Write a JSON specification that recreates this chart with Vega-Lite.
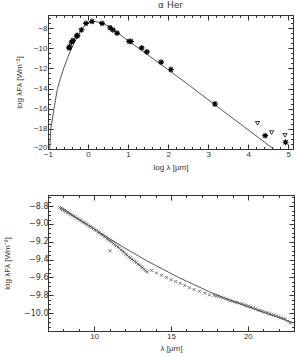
{
  "$schema": "https://vega.github.io/schema/vega-lite/v6.json",
  "background": "white",
  "padding": {"left": 2, "top": 0, "right": 4, "bottom": 0},
  "spacing": 20,
  "config": {
    "view": {"stroke": "#333", "strokeWidth": 1},
    "axis": {
      "grid": false,
      "domainColor": "#333",
      "tickColor": "#333",
      "tickWidth": 1,
      "labelColor": "#333",
      "titleColor": "#333",
      "labelFont": "Liberation Sans",
      "titleFont": "Liberation Sans",
      "labelFontSize": 8,
      "titleFontSize": 8,
      "titleFontWeight": "normal",
      "labelFlush": false,
      "labelOverlap": false
    },
    "title": {"font": "DejaVu Sans", "fontSize": 9, "fontWeight": "normal", "color": "#333"}
  },
  "vconcat": [
    {
      "title": {"text": "α Her", "offset": 4, "frame": "group"},
      "width": 245,
      "height": 134,
      "resolve": {"axis": {"x": "independent", "y": "independent"}},
      "layer": [
        {
          "data": {"values": [
            {"x": -0.955, "y": -20}, {"x": -0.93, "y": -18}, {"x": -0.85, "y": -16}, {"x": -0.765, "y": -14},
            {"x": -0.69, "y": -13}, {"x": -0.6, "y": -11.9}, {"x": -0.5, "y": -10.85}, {"x": -0.41, "y": -10.0},
            {"x": -0.3, "y": -9.1}, {"x": -0.2, "y": -8.4}, {"x": -0.1, "y": -7.8}, {"x": 0, "y": -7.5},
            {"x": 0.1, "y": -7.34}, {"x": 0.2, "y": -7.36}, {"x": 0.3, "y": -7.46}, {"x": 0.4, "y": -7.6},
            {"x": 0.5, "y": -7.8}, {"x": 0.6, "y": -8.05}, {"x": 0.75, "y": -8.5}, {"x": 1.0, "y": -9.25},
            {"x": 1.25, "y": -9.95}, {"x": 1.5, "y": -10.68}, {"x": 1.75, "y": -11.4}, {"x": 2.0, "y": -12.12},
            {"x": 2.5, "y": -13.6}, {"x": 3.0, "y": -15.1}, {"x": 3.5, "y": -16.6}, {"x": 4.0, "y": -18.1},
            {"x": 4.5, "y": -19.6}, {"x": 4.64, "y": -20}
          ]},
          "mark": {"type": "line", "color": "#555", "strokeWidth": 1},
          "encoding": {
            "x": {"field": "x", "type": "quantitative",
              "scale": {"domain": [-1, 5.12], "nice": false, "zero": false},
              "axis": {"orient": "bottom", "title": "log λ [μm]", "titleY": 18, "titleBaseline": "middle",
                "values": [-1,-0.8,-0.6,-0.4,-0.2,0,0.2,0.4,0.6,0.8,1,1.2,1.4,1.6,1.8,2,2.2,2.4,2.6,2.8,3,3.2,3.4,3.6,3.8,4,4.2,4.4,4.6,4.8,5],
                "labelExpr": "abs(datum.value - round(datum.value)) < 0.001 ? format(datum.value, 'd') : ''",
                "tickSize": {"condition": {"test": "abs(datum.value - round(datum.value)) < 0.001", "value": -5}, "value": -2.5},
                "labelPadding": 6}},
            "y": {"field": "y", "type": "quantitative",
              "scale": {"domain": [-20, -6.7], "nice": false, "zero": false},
              "axis": {"orient": "left", "title": "log λFλ [Wm⁻²]", "titleX": -29, "titleY": 67, "titleAngle": -90, "titleAlign": "center", "titleBaseline": "middle",
                "values": [-20,-19.5,-19,-18.5,-18,-17.5,-17,-16.5,-16,-15.5,-15,-14.5,-14,-13.5,-13,-12.5,-12,-11.5,-11,-10.5,-10,-9.5,-9,-8.5,-8,-7.5,-7],
                "labelExpr": "datum.value % 2 === 0 ? format(datum.value, 'd') : ''",
                "labelOffset": {"condition": {"test": "datum.value === -20", "value": -2}, "value": 0},
                "tickSize": {"condition": {"test": "datum.value % 2 === 0", "value": -5}, "value": -2.5},
                "labelPadding": 6}}
          }
        },
        {
          "data": {"values": [
            {"x": -0.475, "y": -9.96}, {"x": -0.46, "y": -9.85}, {"x": -0.41, "y": -9.39}, {"x": -0.375, "y": -9.22},
            {"x": -0.28, "y": -8.8}, {"x": -0.265, "y": -8.72}, {"x": -0.165, "y": -8.17}, {"x": -0.05, "y": -7.53},
            {"x": 0.1, "y": -7.34}, {"x": 0.35, "y": -7.53}, {"x": 0.55, "y": -7.97}, {"x": 0.62, "y": -8.17},
            {"x": 0.725, "y": -8.5}, {"x": 1.025, "y": -9.32}, {"x": 1.07, "y": -9.32}, {"x": 1.34, "y": -9.96},
            {"x": 1.47, "y": -10.36}, {"x": 1.825, "y": -11.38}, {"x": 2.07, "y": -12.11}, {"x": 3.17, "y": -15.53},
            {"x": 4.425, "y": -18.67}, {"x": 4.935, "y": -19.33}
          ]},
          "mark": {"type": "point", "shape": "M-1,0L1,0M0,-1L0,1M-0.7,-0.7L0.7,0.7M-0.7,0.7L0.7,-0.7", "size": 34, "color": "black", "filled": false, "strokeWidth": 1.1, "opacity": 1},
          "encoding": {
            "x": {"field": "x", "type": "quantitative",
              "scale": {"domain": [-1, 5.12], "nice": false, "zero": false},
              "axis": {"orient": "top", "title": null, "labels": false,
                "values": [-1,-0.8,-0.6,-0.4,-0.2,0,0.2,0.4,0.6,0.8,1,1.2,1.4,1.6,1.8,2,2.2,2.4,2.6,2.8,3,3.2,3.4,3.6,3.8,4,4.2,4.4,4.6,4.8,5],
                "tickSize": {"condition": {"test": "abs(datum.value - round(datum.value)) < 0.001", "value": -5}, "value": -2.5}}},
            "y": {"field": "y", "type": "quantitative",
              "scale": {"domain": [-20, -6.7], "nice": false, "zero": false},
              "axis": {"orient": "right", "title": null, "labels": false,
                "values": [-20,-19.5,-19,-18.5,-18,-17.5,-17,-16.5,-16,-15.5,-15,-14.5,-14,-13.5,-13,-12.5,-12,-11.5,-11,-10.5,-10,-9.5,-9,-8.5,-8,-7.5,-7],
                "tickSize": {"condition": {"test": "datum.value % 2 === 0", "value": -5}, "value": -2.5}}}
          }
        },
        {
          "data": {"values": [
            {"x": 4.235, "y": -17.45}, {"x": 4.585, "y": -18.37}, {"x": 4.92, "y": -18.64}
          ]},
          "mark": {"type": "point", "shape": "triangle-down", "size": 18, "color": "#222", "filled": false, "strokeWidth": 0.9, "opacity": 1},
          "encoding": {
            "x": {"field": "x", "type": "quantitative", "scale": {"domain": [-1, 5.12], "nice": false, "zero": false}, "axis": null},
            "y": {"field": "y", "type": "quantitative", "scale": {"domain": [-20, -6.7], "nice": false, "zero": false}, "axis": null}
          }
        }
      ]
    },
    {
      "width": 246,
      "height": 136,
      "resolve": {"axis": {"x": "independent", "y": "independent"}},
      "layer": [
        {
          "data": {"values": [
            {"x": 7.8, "y": -8.805}, {"x": 8.5, "y": -8.885}, {"x": 9.0, "y": -8.945}, {"x": 9.5, "y": -9.0},
            {"x": 10.0, "y": -9.055}, {"x": 10.5, "y": -9.11}, {"x": 11.0, "y": -9.165}, {"x": 11.5, "y": -9.215},
            {"x": 12.0, "y": -9.27}, {"x": 12.5, "y": -9.32}, {"x": 13.0, "y": -9.37}, {"x": 13.5, "y": -9.42},
            {"x": 14.0, "y": -9.465}, {"x": 14.5, "y": -9.51}, {"x": 15.0, "y": -9.555}, {"x": 15.5, "y": -9.6},
            {"x": 16.0, "y": -9.64}, {"x": 16.5, "y": -9.68}, {"x": 17.0, "y": -9.72}, {"x": 17.5, "y": -9.76},
            {"x": 18.0, "y": -9.795}, {"x": 18.5, "y": -9.83}, {"x": 19.0, "y": -9.865}, {"x": 19.5, "y": -9.895},
            {"x": 20.0, "y": -9.93}, {"x": 20.5, "y": -9.96}, {"x": 21.0, "y": -9.99}, {"x": 21.5, "y": -10.02},
            {"x": 22.0, "y": -10.05}, {"x": 22.5, "y": -10.08}, {"x": 22.9, "y": -10.105}
          ]},
          "mark": {"type": "line", "color": "#555", "strokeWidth": 1},
          "encoding": {
            "x": {"field": "x", "type": "quantitative",
              "scale": {"domain": [7, 23], "nice": false, "zero": false},
              "axis": {"orient": "bottom", "title": "λ [μm]", "titleY": 17, "titleBaseline": "middle",
                "values": [7,8,9,10,11,12,13,14,15,16,17,18,19,20,21,22,23],
                "labelExpr": "datum.value % 5 === 0 ? format(datum.value, 'd') : ''",
                "tickSize": {"condition": {"test": "datum.value % 5 === 0", "value": -5}, "value": -2.5},
                "labelPadding": 6}},
            "y": {"field": "y", "type": "quantitative",
              "scale": {"domain": [-10.2, -8.675], "nice": false, "zero": false},
              "axis": {"orient": "left", "title": "log λFλ [Wm⁻²]", "titleX": -40.5, "titleY": 68, "titleAngle": -90, "titleAlign": "center", "titleBaseline": "middle",
                "labelFont": "DejaVu Sans",
                "values": [-10.15,-10.1,-10.05,-10,-9.95,-9.9,-9.85,-9.8,-9.75,-9.7,-9.65,-9.6,-9.55,-9.5,-9.45,-9.4,-9.35,-9.3,-9.25,-9.2,-9.15,-9.1,-9.05,-9,-8.95,-8.9,-8.85,-8.8,-8.75,-8.7],
                "labelExpr": "abs(datum.value * 5 - round(datum.value * 5)) < 0.001 ? format(datum.value, '.1f') : ''",
                "tickSize": {"condition": {"test": "abs(datum.value * 5 - round(datum.value * 5)) < 0.001", "value": -5}, "value": -2.5},
                "labelPadding": 5}}
          }
        },
        {
          "data": {"values": [
            {"x": 7.75, "y": -8.815}, {"x": 7.85, "y": -8.83}, {"x": 7.95, "y": -8.838}, {"x": 8.05, "y": -8.85},
            {"x": 8.15, "y": -8.858}, {"x": 8.25, "y": -8.872}, {"x": 8.35, "y": -8.878}, {"x": 8.45, "y": -8.892},
            {"x": 8.55, "y": -8.9}, {"x": 8.65, "y": -8.912}, {"x": 8.75, "y": -8.92}, {"x": 8.85, "y": -8.935},
            {"x": 8.95, "y": -8.942}, {"x": 9.05, "y": -8.955}, {"x": 9.15, "y": -8.962}, {"x": 9.25, "y": -8.978},
            {"x": 9.35, "y": -8.984}, {"x": 9.45, "y": -8.998}, {"x": 9.55, "y": -9.004}, {"x": 9.65, "y": -9.02},
            {"x": 9.75, "y": -9.028}, {"x": 9.85, "y": -9.04}, {"x": 9.95, "y": -9.052}, {"x": 10.05, "y": -9.064},
            {"x": 10.15, "y": -9.072}, {"x": 10.25, "y": -9.09}, {"x": 10.35, "y": -9.098}, {"x": 10.45, "y": -9.114},
            {"x": 10.55, "y": -9.122}, {"x": 10.65, "y": -9.14}, {"x": 10.75, "y": -9.148}, {"x": 10.85, "y": -9.168},
            {"x": 10.95, "y": -9.176}, {"x": 11.04, "y": -9.3}, {"x": 11.05, "y": -9.19}, {"x": 11.15, "y": -9.2},
            {"x": 11.25, "y": -9.218}, {"x": 11.35, "y": -9.23}, {"x": 11.45, "y": -9.244}, {"x": 11.55, "y": -9.258},
            {"x": 11.65, "y": -9.272}, {"x": 11.75, "y": -9.29}, {"x": 11.85, "y": -9.305}, {"x": 11.95, "y": -9.318},
            {"x": 12.05, "y": -9.338}, {"x": 12.15, "y": -9.35}, {"x": 12.25, "y": -9.368}, {"x": 12.35, "y": -9.378},
            {"x": 12.45, "y": -9.395}, {"x": 12.55, "y": -9.408}, {"x": 12.65, "y": -9.42}, {"x": 12.75, "y": -9.432},
            {"x": 12.85, "y": -9.45}, {"x": 12.95, "y": -9.46}, {"x": 13.05, "y": -9.478}, {"x": 13.15, "y": -9.49},
            {"x": 13.25, "y": -9.508}, {"x": 13.35, "y": -9.522}, {"x": 13.45, "y": -9.538},
            {"x": 13.74, "y": -9.52}, {"x": 14.06, "y": -9.55}, {"x": 14.38, "y": -9.575}, {"x": 14.7, "y": -9.6},
            {"x": 15.0, "y": -9.625}, {"x": 15.3, "y": -9.645}, {"x": 15.6, "y": -9.665}, {"x": 15.9, "y": -9.69},
            {"x": 16.2, "y": -9.715}, {"x": 16.5, "y": -9.735}, {"x": 16.85, "y": -9.755}, {"x": 17.2, "y": -9.775},
            {"x": 17.5, "y": -9.795}, {"x": 17.8, "y": -9.8}, {"x": 17.95, "y": -9.808}, {"x": 18.1, "y": -9.812},
            {"x": 18.25, "y": -9.82}, {"x": 18.4, "y": -9.83}, {"x": 18.55, "y": -9.84}, {"x": 18.7, "y": -9.848},
            {"x": 18.85, "y": -9.86}, {"x": 19.0, "y": -9.866}, {"x": 19.15, "y": -9.874}, {"x": 19.3, "y": -9.88},
            {"x": 19.45, "y": -9.89}, {"x": 19.6, "y": -9.895}, {"x": 19.75, "y": -9.905}, {"x": 19.9, "y": -9.915},
            {"x": 20.05, "y": -9.92}, {"x": 20.2, "y": -9.93}, {"x": 20.35, "y": -9.94}, {"x": 20.5, "y": -9.95},
            {"x": 20.65, "y": -9.962}, {"x": 20.8, "y": -9.97}, {"x": 20.95, "y": -9.978}, {"x": 21.1, "y": -9.988},
            {"x": 21.25, "y": -9.995}, {"x": 21.4, "y": -10.005}, {"x": 21.55, "y": -10.015}, {"x": 21.7, "y": -10.02},
            {"x": 21.85, "y": -10.03}, {"x": 22.0, "y": -10.04}, {"x": 22.15, "y": -10.05}, {"x": 22.3, "y": -10.06},
            {"x": 22.45, "y": -10.07}, {"x": 22.6, "y": -10.09}, {"x": 22.75, "y": -10.11}
          ]},
          "mark": {"type": "point", "shape": "M-1,-1L1,1M-1,1L1,-1", "size": 9, "color": "#555", "filled": false, "strokeWidth": 0.8, "opacity": 1},
          "encoding": {
            "x": {"field": "x", "type": "quantitative",
              "scale": {"domain": [7, 23], "nice": false, "zero": false},
              "axis": {"orient": "top", "title": null, "labels": false,
                "values": [7,8,9,10,11,12,13,14,15,16,17,18,19,20,21,22,23],
                "tickSize": {"condition": {"test": "datum.value % 5 === 0", "value": -5}, "value": -2.5}}},
            "y": {"field": "y", "type": "quantitative",
              "scale": {"domain": [-10.2, -8.675], "nice": false, "zero": false},
              "axis": {"orient": "right", "title": null, "labels": false,
                "values": [-10.15,-10.1,-10.05,-10,-9.95,-9.9,-9.85,-9.8,-9.75,-9.7,-9.65,-9.6,-9.55,-9.5,-9.45,-9.4,-9.35,-9.3,-9.25,-9.2,-9.15,-9.1,-9.05,-9,-8.95,-8.9,-8.85,-8.8,-8.75,-8.7],
                "tickSize": {"condition": {"test": "abs(datum.value * 5 - round(datum.value * 5)) < 0.001", "value": -5}, "value": -2.5}}}
          }
        }
      ]
    }
  ]
}
